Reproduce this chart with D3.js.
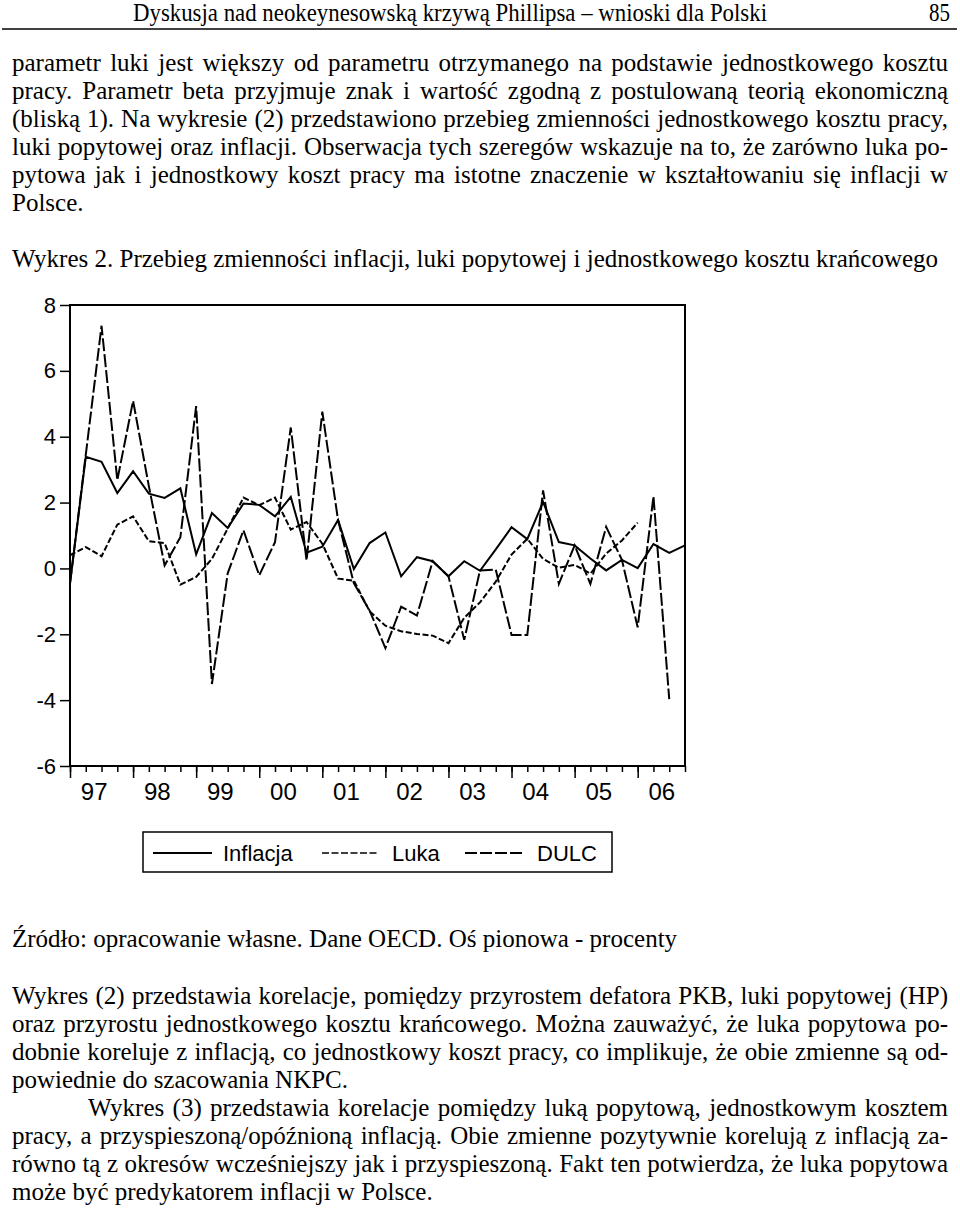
<!DOCTYPE html>
<html>
<head>
<meta charset="utf-8">
<script src="https://cdn.jsdelivr.net/npm/d3@7"></script>
<style>
  html, body { margin: 0; padding: 0; background: #fff; }
  svg { display: block; }
</style>
</head>
<body>
<div id="page"></div>
<script>
// ---- data (quarterly, 1997Q1 - 2006Q4) ----
const quarters = [
  "97Q1","97Q2","97Q3","97Q4","98Q1","98Q2","98Q3","98Q4","99Q1","99Q2","99Q3","99Q4",
  "00Q1","00Q2","00Q3","00Q4","01Q1","01Q2","01Q3","01Q4","02Q1","02Q2","02Q3","02Q4",
  "03Q1","03Q2","03Q3","03Q4","04Q1","04Q2","04Q3","04Q4","05Q1","05Q2","05Q3","05Q4",
  "06Q1","06Q2","06Q3","06Q4"
];
const inflacja = [-0.47, 3.39, 3.24, 2.29, 2.95, 2.27, 2.14, 2.43, 0.43, 1.68, 1.23, 1.97,
  1.93, 1.58, 2.17, 0.48, 0.66, 1.47, -0.02, 0.77, 1.09, -0.24, 0.34, 0.22,
  -0.24, 0.22, -0.07, 0.58, 1.25, 0.89, 2.02, 0.80, 0.70, 0.30, -0.06, 0.26,
  0.01, 0.74, 0.47, 0.70];
const luka = [0.40, 0.65, 0.37, 1.33, 1.58, 0.83, 0.77, -0.49, -0.26, 0.29, 1.21, 2.15,
  1.92, 2.15, 1.18, 1.41, 0.75, -0.31, -0.37, -1.30, -1.74, -1.91, -1.99, -2.04,
  -2.27, -1.50, -1.03, -0.40, 0.42, 0.90, 0.29, 0.02, 0.11, -0.16, 0.45, 0.85,
  1.39, null, null, null];
const dulc = [-0.45, 3.45, 7.37, 2.68, 5.09, 2.50, 0.09, 0.95, 4.93, -3.51, -0.15, 1.16,
  -0.21, 0.80, 4.28, 0.24, 4.76, 1.46, -0.45, -1.28, -2.42, -1.16, -1.43, 0.22,
  -0.24, -2.17, -0.06, -0.04, -2.02, -2.02, 2.37, -0.47, 0.70, -0.47, 1.26, 0.26,
  -1.79, 2.19, -3.97, null];
const yearLabels = ["97","98","99","00","01","02","03","04","05","06"];
const yTicks = [8, 6, 4, 2, 0, -2, -4, -6];
const seriesNames = ["Inflacja", "Luka", "DULC"];

// ---- page text ----
const headerTitle = "Dyskusja nad neokeynesowską krzywą Phillipsa – wnioski dla Polski";
const pageNumber = "85";
const para1 = [
  ["parametr luki jest większy od parametru otrzymanego na podstawie jednostkowego kosztu", true],
  ["pracy. Parametr beta przyjmuje znak i wartość zgodną z postulowaną teorią ekonomiczną", true],
  ["(bliską 1). Na wykresie (2) przedstawiono przebieg zmienności jednostkowego kosztu pracy,", true],
  ["luki popytowej oraz inflacji. Obserwacja tych szeregów wskazuje na to, że zarówno luka po-", true],
  ["pytowa jak i jednostkowy koszt pracy ma istotne znaczenie w kształtowaniu się inflacji w", true],
  ["Polsce.", false]
];
const caption = "Wykres 2. Przebieg zmienności inflacji, luki popytowej i jednostkowego kosztu krańcowego";
const source = "Źródło: opracowanie własne. Dane OECD. Oś pionowa - procenty";
const para2 = [
  ["Wykres (2) przedstawia korelacje, pomiędzy przyrostem defatora PKB, luki popytowej (HP)", true, 0],
  ["oraz przyrostu jednostkowego kosztu krańcowego. Można zauważyć, że luka popytowa po-", true, 0],
  ["dobnie koreluje z inflacją, co jednostkowy koszt pracy, co implikuje, że obie zmienne są od-", true, 0],
  ["powiednie do szacowania NKPC.", false, 0],
  ["Wykres (3) przedstawia korelacje pomiędzy luką popytową, jednostkowym kosztem", true, 1],
  ["pracy, a przyspieszoną/opóźnioną inflacją. Obie zmienne pozytywnie korelują z inflacją za-", true, 0],
  ["równo tą z okresów wcześniejszy jak i przyspieszoną. Fakt ten potwierdza, że luka popytowa", true, 0],
  ["może być predykatorem inflacji w Polsce.", false, 0]
];

const W = 960, H = 1211;
const svg = d3.select("#page").append("svg")
    .attr("width", W)
    .attr("height", H);

const serif = "'Liberation Serif', 'Times New Roman', serif";
const sans = "'Liberation Sans', Arial, sans-serif";
const bodySize = 25;
const textLeft = 12, textRight = 948, lineStep = 28;

// header
svg.append("text")
    .attr("x", 133).attr("y", 21)
    .attr("textLength", 634).attr("lengthAdjust", "spacingAndGlyphs")
    .style("font-family", serif).style("font-size", "25px")
    .text(headerTitle);
svg.append("text")
    .attr("x", 929).attr("y", 21)
    .attr("textLength", 21).attr("lengthAdjust", "spacingAndGlyphs")
    .style("font-family", serif).style("font-size", "25px")
    .text(pageNumber);
svg.append("line")
    .attr("x1", 2).attr("x2", 957).attr("y1", 29).attr("y2", 29)
    .attr("stroke", "#000").attr("stroke-width", 1.5);

// justified line helper: spread extra room over the spaces
function textLine(str, x, y, justify, right) {
  const t = svg.append("text")
      .attr("x", x).attr("y", y)
      .style("font-family", serif).style("font-size", bodySize + "px")
      .style("white-space", "pre")
      .text(str);
  if (justify) {
    const natural = t.node().getComputedTextLength();
    const spaces = (str.match(/ /g) || []).length;
    if (spaces > 0) t.style("word-spacing", ((right - x - natural) / spaces) + "px");
  }
  return t;
}

para1.forEach(([s, j], i) => textLine(s, textLeft, 71 + i * lineStep, j, textRight));
textLine(caption, textLeft, 267, false);
textLine(source, textLeft, 947, false);
para2.forEach(([s, j, indent], i) => textLine(s, indent ? 88 : textLeft, 1004 + i * lineStep, j, textRight));

// ---- chart ----
const plot = {left: 70, right: 685, top: 305, bottom: 766};

const x = d3.scaleLinear().domain([0, quarters.length - 1]).range([plot.left, plot.right]);
const y = d3.scaleLinear().domain([-6, 8]).range([plot.bottom, plot.top]);

const chart = svg.append("g");

// y axis
const yAxis = chart.append("g")
    .attr("transform", "translate(" + plot.left + ",0)")
    .call(d3.axisLeft(y).tickValues(yTicks).tickSize(10).tickPadding(4).tickFormat(d => String(d)));
yAxis.select(".domain").remove();
yAxis.selectAll("line").attr("stroke-width", 1.5);
yAxis.selectAll("text").style("font-family", sans).style("font-size", "22px").attr("fill", "#000");

// x axis: minor quarter ticks, major year ticks, year labels in between
const quarterIdx = quarters.map((q, i) => i);
const minorAx = chart.append("g")
    .attr("transform", "translate(0," + plot.bottom + ")")
    .call(d3.axisBottom(x).tickValues(quarterIdx).tickSize(6).tickFormat(""));
minorAx.select(".domain").remove();
minorAx.selectAll("line").attr("stroke-width", 1.5);

const majorAx = chart.append("g")
    .attr("transform", "translate(0," + plot.bottom + ")")
    .call(d3.axisBottom(x).tickValues(quarterIdx.filter(i => quarters[i].endsWith("Q1"))).tickSize(12).tickFormat(""));
majorAx.select(".domain").remove();
majorAx.selectAll("line").attr("stroke-width", 1.5);

const labelAx = chart.append("g")
    .attr("transform", "translate(0," + plot.bottom + ")")
    .call(d3.axisBottom(x)
      .tickValues(yearLabels.map((d, i) => i * 4 + 1.5))
      .tickSize(0).tickPadding(17)
      .tickFormat((d, i) => yearLabels[i]));
labelAx.select(".domain").remove();
labelAx.selectAll("text").style("font-family", sans).style("font-size", "24px").attr("fill", "#000");

// frame
chart.append("rect")
    .attr("x", plot.left).attr("y", plot.top)
    .attr("width", plot.right - plot.left).attr("height", plot.bottom - plot.top)
    .attr("fill", "none").attr("stroke", "#000").attr("stroke-width", 2);

const lineGen = d3.line()
    .defined(d => d != null)
    .x((d, i) => x(i))
    .y(d => y(d));

const styles = [
  {data: inflacja, dash: null},
  {data: luka, dash: "6,2.5"},
  {data: dulc, dash: "13,3"}
];

styles.forEach(s => {
  chart.append("path")
      .datum(s.data)
      .attr("fill", "none")
      .attr("stroke", "#000")
      .attr("stroke-width", 2)
      .attr("stroke-linejoin", "miter")
      .attr("stroke-dasharray", s.dash)
      .attr("d", lineGen);
});

// legend
const legend = svg.append("g");
legend.append("rect")
    .attr("x", 143).attr("y", 832).attr("width", 469).attr("height", 40)
    .attr("fill", "none").attr("stroke", "#000").attr("stroke-width", 1.5);
const legendItems = [
  {x1: 153, x2: 212, tx: 223, dash: null},
  {x1: 322, x2: 378, tx: 392, dash: "7,2.5"},
  {x1: 465, x2: 523, tx: 537, dash: "12,3"}
];
legendItems.forEach((it, i) => {
  legend.append("line")
      .attr("x1", it.x1).attr("x2", it.x2).attr("y1", 853).attr("y2", 853)
      .attr("stroke", "#000").attr("stroke-width", it.dash && i === 1 ? 1.5 : 2)
      .attr("stroke-dasharray", it.dash);
  legend.append("text")
      .attr("x", it.tx).attr("y", 861)
      .style("font-family", sans).style("font-size", "22px")
      .text(seriesNames[i]);
});
</script>
</body>
</html>
